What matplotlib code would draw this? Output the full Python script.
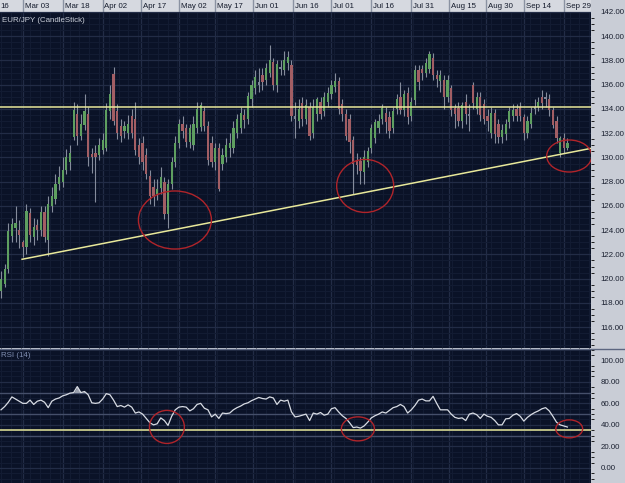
"""EUR/JPY daily candlesticks with RSI(14) panel, dark trading-terminal style."""

import matplotlib
matplotlib.use("Agg")
import matplotlib.pyplot as plt
from matplotlib.patches import Ellipse
from matplotlib.ticker import FixedLocator, MultipleLocator
import numpy as np

BG = "#0A1227"
PANEL = "#C9CDD6"
HEAD = "#D6D9E0"
GRID_MAJ = "#222C46"
GRID_MIN = "#121B32"
C_UP = "#5E9F60"
C_DN = "#A25E64"
C_FLAT = "#7C8598"
C_WICK = "#858C9C"
C_YEL = "#E8E89A"
C_RED = "#B0242A"

# ---- data ----
opens = [119.0, 119.6, 120.8, 123.5, 124.2, 124.0, 123.0, 122.6, 125.4, 123.4,
         124.4, 124.0, 125.5, 123.2, 126.0, 126.6, 127.8, 128.0, 129.0, 129.6,
         131.7, 133.6, 131.8, 132.7, 133.6, 130.3, 130.4, 130.2, 130.6, 130.8,
         133.8, 136.9, 133.8, 132.6, 132.2, 132.0, 133.4, 133.2, 131.0, 131.2,
         130.2, 128.5, 127.6, 127.0, 127.5, 128.0, 125.3, 127.8, 129.6, 131.2,
         132.8, 132.4, 131.3, 131.0, 132.4, 132.5, 133.8, 132.6, 131.2, 129.6,
         130.8, 129.5, 130.0, 130.8, 130.8, 132.0, 132.4, 133.5, 133.2, 134.8,
         135.7, 136.2, 136.8, 136.4, 137.0, 137.9, 136.0, 137.5, 137.2, 137.8,
         137.6, 133.4, 133.0, 134.5, 133.2, 134.2, 132.0, 133.6, 134.6, 133.8,
         134.6, 135.2, 135.8, 136.3, 134.4, 133.6, 133.2, 131.4, 129.8, 129.7,
         128.8, 129.6, 130.8, 131.6, 132.4, 133.2, 133.7, 133.3, 132.4, 134.0,
         135.0, 133.9, 135.3, 133.4, 134.7, 137.2, 137.3, 137.0, 137.3, 138.2,
         136.8, 136.3, 136.4, 135.0, 135.7, 134.1, 134.1, 133.0, 134.6, 133.6,
         136.0, 134.0, 135.0, 134.4, 133.4, 132.0, 133.7, 132.8, 131.7, 131.9,
         132.9, 133.4, 134.0, 134.2, 133.3, 132.0, 132.8, 134.0, 134.2, 135.0,
         135.0, 134.8, 133.9, 133.0, 130.4, 131.6, 130.8]
closes = [120.0, 120.8, 123.9, 124.5, 124.6, 123.6, 122.6, 125.6, 123.6, 124.3,
          124.0, 125.5, 123.4, 126.2, 126.8, 127.8, 128.4, 129.0, 130.0, 130.4,
          133.9, 131.8, 132.8, 133.8, 130.0, 130.0, 130.0, 131.0, 131.4, 133.9,
          135.2, 133.0, 132.0, 131.8, 132.6, 132.8, 132.0, 130.6, 130.0, 129.6,
          128.6, 126.8, 126.8, 127.4, 128.4, 125.3, 127.8, 129.6, 131.2, 132.8,
          132.2, 131.3, 132.4, 132.8, 134.0, 134.3, 132.6, 129.8, 129.6, 130.8,
          127.4, 130.2, 131.0, 131.2, 132.4, 133.2, 133.7, 133.1, 135.1, 136.0,
          136.6, 136.0, 136.2, 137.4, 138.0, 136.0, 137.7, 137.3, 138.0, 138.3,
          133.4, 133.2, 134.0, 133.2, 134.3, 131.8, 134.2, 134.8, 133.6, 135.0,
          135.3, 136.0, 136.3, 134.0, 133.6, 131.8, 131.3, 129.5, 129.4, 128.9,
          130.0, 130.5, 132.4, 132.9, 133.0, 134.1, 132.9, 132.2, 133.8, 134.8,
          133.9, 135.2, 133.3, 134.6, 137.2, 136.2, 137.0, 137.8, 138.5, 136.8,
          136.5, 136.8, 135.0, 136.4, 133.9, 133.6, 133.0, 134.3, 133.6, 133.4,
          134.5, 135.0, 133.5, 133.2, 133.0, 133.7, 131.9, 131.7, 132.3, 132.8,
          133.8, 133.9, 133.4, 133.4, 132.0, 133.0, 133.7, 134.2, 134.6, 134.5,
          134.8, 133.9, 132.7, 131.6, 131.6, 130.8, 131.2]
highs = [120.6, 121.2, 124.6, 125.0, 126.0, 124.8, 123.2, 126.2, 125.8, 125.0,
         124.9, 126.0, 126.0, 126.8, 127.6, 128.6, 129.3, 130.0, 130.7, 131.0,
         134.6, 134.4, 133.6, 135.2, 134.2, 130.8, 131.0, 131.6, 132.0, 134.5,
         136.0, 137.5, 134.4, 133.2, 133.0, 133.5, 134.0, 134.6, 131.6, 131.8,
         130.8, 129.0, 128.2, 128.2, 129.2, 128.4, 128.2, 130.0, 131.8, 133.2,
         133.4, 132.8, 132.8, 133.4, 134.6, 134.6, 134.2, 133.0, 131.8, 131.2,
         131.2, 130.8, 131.6, 132.0, 133.0, 133.6, 134.2, 134.0, 135.4, 136.4,
         137.2, 137.4, 137.4, 137.8, 139.3, 138.2, 138.0, 138.0, 138.8, 138.8,
         138.0, 134.6, 134.8, 135.0, 134.8, 134.6, 134.8, 135.0, 135.0, 135.4,
         135.8, 136.4, 137.0, 136.6, 134.8, 134.0, 133.6, 131.8, 130.4, 130.0,
         130.6, 130.9, 132.8, 133.2, 133.6, 134.4, 134.2, 133.8, 134.2, 135.2,
         136.2, 135.6, 135.8, 135.0, 137.6, 137.6, 137.6, 138.2, 138.8, 138.6,
         137.2, 137.2, 136.8, 136.8, 136.0, 134.4, 134.6, 134.6, 135.2, 134.4,
         136.2, 135.4, 135.4, 134.8, 134.0, 134.2, 134.0, 133.2, 132.8, 133.2,
         134.2, 134.4, 134.4, 134.6, 133.6, 133.4, 134.2, 134.8, 135.0, 135.6,
         135.4, 135.2, 134.2, 133.4, 131.8, 132.0, 131.6]
lows = [118.4, 119.3, 120.5, 123.0, 123.0, 122.5, 121.8, 122.0, 123.0, 122.8,
        123.2, 123.5, 123.0, 121.9, 125.5, 126.2, 127.3, 127.6, 128.6, 129.0,
        131.4, 131.0, 131.4, 132.3, 129.3, 128.7, 126.3, 129.8, 130.3, 130.5,
        133.2, 132.7, 131.5, 131.3, 131.6, 131.5, 131.6, 130.2, 129.5, 129.0,
        128.2, 126.2, 126.0, 126.5, 127.0, 124.9, 124.2, 127.4, 129.2, 130.8,
        131.6, 130.9, 130.8, 130.6, 132.0, 132.2, 132.2, 129.4, 129.2, 129.0,
        127.2, 129.0, 129.6, 130.0, 130.4, 131.6, 132.0, 132.4, 132.8, 134.2,
        135.2, 135.4, 135.6, 136.0, 136.6, 135.6, 135.4, 136.8, 136.8, 137.2,
        133.0, 131.6, 132.4, 132.6, 132.8, 131.4, 131.6, 133.0, 133.2, 133.4,
        134.2, 134.8, 135.4, 133.6, 133.0, 131.4, 130.4, 127.0, 128.6, 127.8,
        127.8, 129.2, 130.4, 131.2, 132.0, 132.8, 132.0, 131.6, 132.0, 133.6,
        133.6, 133.4, 132.8, 133.0, 134.3, 135.6, 136.4, 136.6, 137.0, 136.4,
        135.8, 135.4, 134.0, 134.6, 133.4, 132.4, 132.6, 132.4, 132.8, 132.2,
        134.0, 133.6, 133.0, 132.8, 132.2, 131.6, 131.2, 131.2, 131.2, 131.4,
        132.4, 133.0, 133.0, 133.0, 131.4, 131.6, 132.4, 133.6, 133.8, 134.0,
        134.2, 133.4, 132.4, 131.2, 130.0, 130.4, 130.6]
rsi = [54, 57, 61, 66, 64, 62, 60, 60, 63, 59,
       62, 63, 61, 56, 62, 64, 65, 67, 68, 69.5,
       70, 75.6, 70, 71, 68, 60.5, 60, 60.5, 64, 69,
       68, 63, 57, 58, 56.5, 58.6, 56.5, 51, 52, 50,
       46, 42, 40, 41, 46.5, 44, 39.5, 48, 54, 56.5,
       57, 56.5, 53, 55, 59, 60, 55.5, 54, 47.4, 50,
       46, 51, 50.5, 51, 54, 56, 57.5, 59.5, 60.5, 62.5,
       64, 65.5, 64.5, 64, 66, 65, 59, 63, 62, 63,
       52, 47.4, 48, 49, 50, 44, 51, 50, 51.5, 49,
       50, 55, 56, 52, 48.5, 46, 42, 37.5, 38, 37,
       39, 42.5, 46.5, 48.5, 50, 52, 51, 53.5, 56, 57,
       59, 57, 51, 54, 58, 63, 64, 62.3, 62.3, 66.5,
       60, 54, 54, 54, 50, 47, 46, 46.5, 44, 50,
       51, 49.5, 46, 50, 48, 47, 44, 40, 40, 45.6,
       46, 49, 50.5, 48, 43.5, 47, 49.5, 51.5, 53, 55,
       56, 53, 48, 42.5, 40, 39, 38]

date_ticks = [-4.8, 6, 17, 28, 38.5, 49, 59, 69.5, 80.5, 91, 102, 113, 123.5, 133.5, 144, 155]
date_labels = ["16", "Mar 03", "Mar 18", "Apr 02", "Apr 17", "May 02", "May 17", "Jun 01",
               "Jun 16", "Jul 01", "Jul 16", "Jul 31", "Aug 15", "Aug 30", "Sep 14", "Sep 29"]
price_ticks = [116, 118, 120, 122, 124, 126, 128, 130, 132, 134, 136, 138, 140, 142]
rsi_ticks = [0, 20, 40, 60, 80, 100]

resistance = 134.2
trend_x = [5.8, 162.5]
trend_y = [121.6, 130.75]
rsi_support = 35.3
price_circles = [(47.9, 124.84, 20.1, 4.79), (100.3, 127.65, 15.7, 4.37), (156.5, 130.12, 12.4, 2.64)]
rsi_circles = [(45.7, 38.1, 9.6, 30.7), (98.3, 36.3, 9.1, 22.3), (156.5, 36.3, 7.4, 16.7)]

XLIM = (-0.28, 162.5)
FONT = "Liberation Sans"
FS = 5.7

W, H = 625, 483
fig = plt.figure(figsize=(W / 100, H / 100), dpi=100, facecolor=PANEL)
plot_w = 591 / W


def style_axes(ax):
    ax.set_facecolor(BG)
    ax.set_xlim(*XLIM)
    for s in ax.spines.values():
        s.set_visible(False)
    ax.yaxis.tick_right()
    ax.tick_params(axis="y", length=0, pad=7, labelsize=FS, labelcolor="#1A2030")
    ax.tick_params(axis="x", length=0, labelbottom=False)
    ax.xaxis.set_major_locator(FixedLocator(date_ticks))
    ax.xaxis.set_minor_locator(MultipleLocator(2.7))
    ax.grid(which="minor", color=GRID_MIN, linewidth=0.8)
    ax.grid(which="major", color=GRID_MAJ, linewidth=0.9)
    ax.set_axisbelow(True)


# ---- price panel ----
ax = fig.add_axes([0, 1 - 348 / H, plot_w, 336 / H])
style_axes(ax)
ax.set_ylim(114.28, 142.0)
ax.yaxis.set_major_locator(FixedLocator(price_ticks))
ax.yaxis.set_minor_locator(MultipleLocator(0.5))
ax.set_yticklabels([f"{v:.2f}" for v in price_ticks], fontfamily=FONT)

x = np.arange(len(closes))
o = np.array(opens)
c = np.array(closes)
body_lo = np.minimum(o, c)
body_h = np.maximum(np.abs(c - o), 0.12)
colors = [C_FLAT if abs(cc - oo) < 0.25 else (C_UP if cc > oo else C_DN) for oo, cc in zip(o, c)]
ax.vlines(x, lows, highs, color=C_WICK, linewidth=0.8, zorder=2)
ax.bar(x, body_h, bottom=body_lo, width=0.62, color=colors, linewidth=0, zorder=3)

ax.axhline(resistance, color=C_YEL, linewidth=1.1, zorder=4)
ax.plot(trend_x, trend_y, color=C_YEL, linewidth=1.1, zorder=4)
for cx, cy, w, h in price_circles:
    ax.add_patch(Ellipse((cx, cy), w, h, fill=False, edgecolor=C_RED, linewidth=1.0, zorder=5))
ax.text(0.003, 0.985, "EUR/JPY (CandleStick)", transform=ax.transAxes, ha="left", va="top",
        fontsize=FS, color="#C9CED8", fontfamily=FONT)

# ---- RSI panel ----
ar = fig.add_axes([0, 0, plot_w, 134 / H])
style_axes(ar)
ar.set_ylim(-14, 110.5)
ar.yaxis.set_major_locator(FixedLocator(rsi_ticks))
ar.yaxis.set_minor_locator(MultipleLocator(5))
ar.set_yticklabels([f"{v:.2f}" for v in rsi_ticks], fontfamily=FONT)
for lvl in (30, 50, 70):
    ar.axhline(lvl, color="#454F6A", linewidth=1.0, zorder=1)
r = np.array(rsi)
ar.fill_between(x, 70, r, where=r >= 70, color="#9AA0AE", linewidth=0, zorder=2)
ar.plot(x, r, color="#D8DCE4", linewidth=0.9, zorder=3)
ar.axhline(rsi_support, color=C_YEL, linewidth=1.1, zorder=4)
for cx, cy, w, h in rsi_circles:
    ar.add_patch(Ellipse((cx, cy), w, h, fill=False, edgecolor=C_RED, linewidth=1.0, zorder=5))
ar.text(0.002, 0.975, "RSI (14)", transform=ar.transAxes, ha="left", va="top",
        fontsize=FS, color="#7F8DB0", fontfamily=FONT)

# panel divider
fig.add_artist(plt.Line2D([0, 1], [1 - 348.5 / H] * 2, color="#5C6680", linewidth=1.0))

# ---- date header ----
hd = fig.add_axes([0, 1 - 12 / H, plot_w, 12 / H])
hd.set_facecolor(HEAD)
hd.set_xlim(*XLIM)
hd.set_ylim(0, 1)
hd.set_xticks([])
hd.set_yticks([])
for s in hd.spines.values():
    s.set_visible(False)
for pos, lab in zip(date_ticks, date_labels):
    hd.axvline(pos, color="#8A92A2", linewidth=1.0)
    hd.text(max(pos + 0.5, XLIM[0] + 0.1), 0.45, lab, ha="left", va="center", fontsize=FS,
            color="#141B2C", fontfamily=FONT)
hd.axhline(0.02, color="#6A7284", linewidth=1.0)

fig.savefig("out.png", dpi=100, facecolor=fig.get_facecolor())
